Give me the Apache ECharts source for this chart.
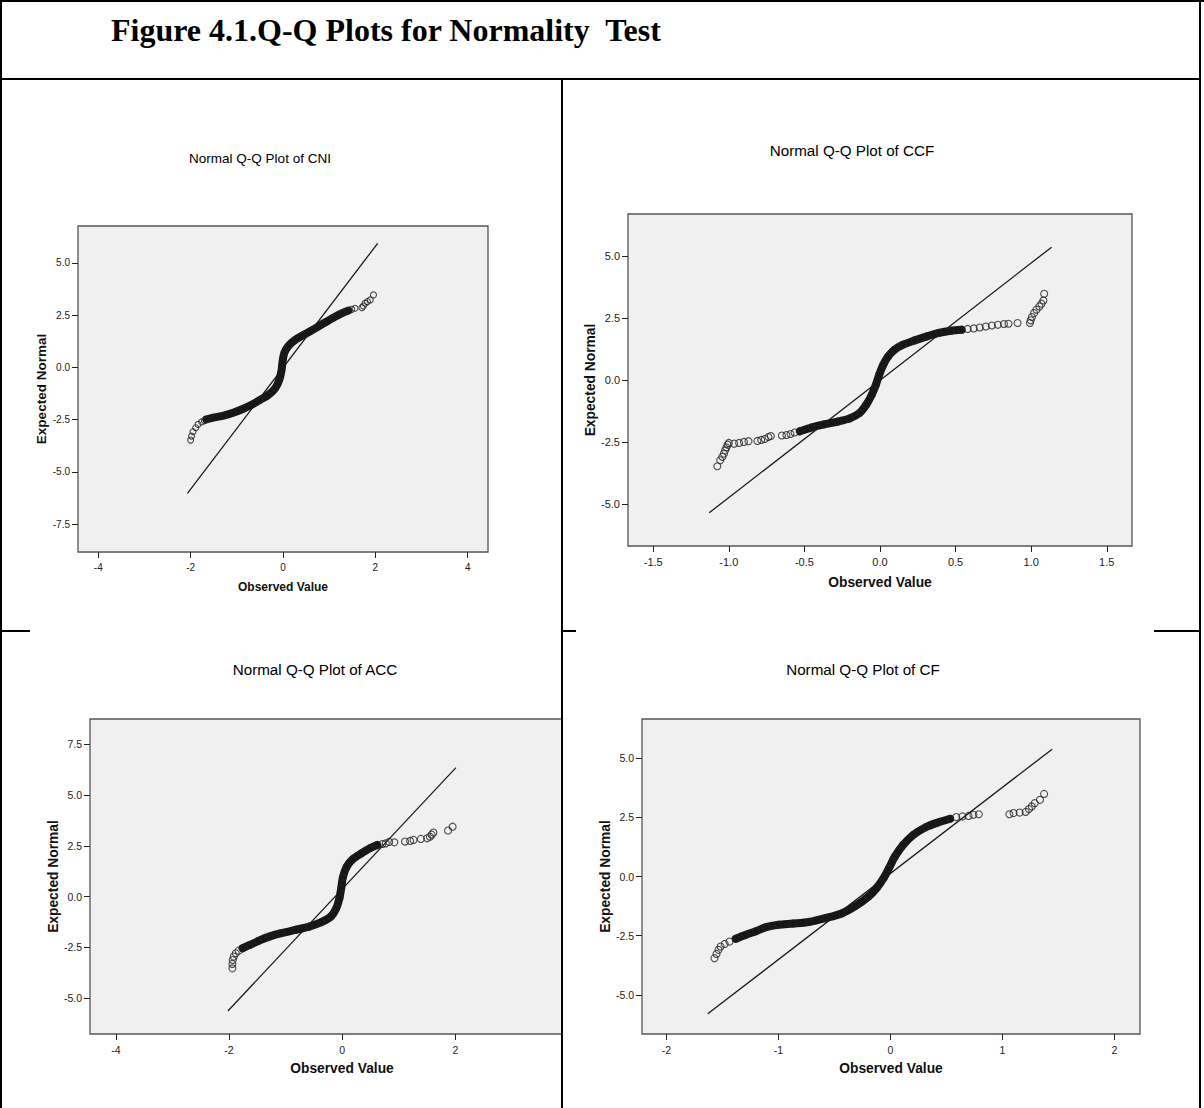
<!DOCTYPE html>
<html>
<head>
<meta charset="utf-8">
<title>Figure 4.1 Q-Q Plots for Normality Test</title>
<script src="https://cdn.jsdelivr.net/npm/echarts@6/dist/echarts.min.js"></script>
<style>
  html, body { margin: 0; padding: 0; background: #fff; }
  #chart { width: 1204px; height: 1108px; }
</style>
</head>
<body>
<div id="chart"></div>
<script>
// "dense" = the solid run of points, "sparse" = points that stand apart in the tails.

const cniDense = [[-1.66, -2.49], [-1.48, -2.39], [-1.29, -2.31], [-1.08, -2.17], [-0.86, -1.98], [-0.68, -1.79], [-0.50, -1.56], [-0.32, -1.32], [-0.17, -1.00], [-0.08, -0.60], [-0.03, -0.12], [-0.01, 0.27], [0.03, 0.71], [0.12, 1.03], [0.26, 1.31], [0.44, 1.55], [0.66, 1.82], [0.88, 2.11], [1.09, 2.38], [1.27, 2.59], [1.42, 2.72]]
const cniSparse = [[-2.00, -3.48], [-1.98, -3.29], [-1.95, -3.08], [-1.89, -2.89], [-1.84, -2.73], [-1.76, -2.61], [-1.70, -2.55], [1.49, 2.78], [1.56, 2.83], [1.71, 2.86], [1.74, 2.94], [1.78, 3.07], [1.83, 3.15], [1.89, 3.23], [1.96, 3.47]]
const cniRef = [[-2.07, -6.03], [2.05, 5.94]]
const cniXRange = [-4.44, 4.44]
const cniYRange = [-8.84, 6.77]
const cniXTicks = [-4, -2, 0, 2, 4]
const cniYTicks = [-7.5, -5, -2.5, 0, 2.5, 5]

const ccfDense = [[-0.53, -2.07], [-0.45, -1.91], [-0.37, -1.79], [-0.28, -1.68], [-0.20, -1.55], [-0.135, -1.33], [-0.09, -0.99], [-0.054, -0.59], [-0.027, -0.19], [-0.005, 0.22], [0.022, 0.62], [0.054, 0.95], [0.095, 1.22], [0.15, 1.42], [0.23, 1.60], [0.31, 1.76], [0.39, 1.90], [0.47, 1.99], [0.54, 2.03]]
const ccfSparse = [[-1.076, -3.48], [-1.057, -3.24], [-1.043, -3.10], [-1.032, -2.97], [-1.024, -2.84], [-1.016, -2.72], [-1.008, -2.61], [-1.0, -2.54], [-0.965, -2.57], [-0.932, -2.54], [-0.90, -2.50], [-0.87, -2.47], [-0.811, -2.46], [-0.786, -2.42], [-0.762, -2.38], [-0.738, -2.30], [-0.722, -2.26], [-0.649, -2.24], [-0.619, -2.22], [-0.592, -2.18], [-0.565, -2.12], [0.58, 2.06], [0.62, 2.08], [0.66, 2.12], [0.70, 2.16], [0.74, 2.20], [0.78, 2.23], [0.82, 2.26], [0.85, 2.27], [0.91, 2.30], [0.992, 2.30], [0.997, 2.41], [1.005, 2.54], [1.019, 2.70], [1.035, 2.84], [1.054, 2.97], [1.068, 3.08], [1.081, 3.21], [1.086, 3.48]]
const ccfRef = [[-1.13, -5.36], [1.135, 5.36]]
const ccfXRange = [-1.667, 1.667]
const ccfYRange = [-6.7, 6.7]
const ccfXTicks = [-1.5, -1, -0.5, 0, 0.5, 1, 1.5]
const ccfYTicks = [-5, -2.5, 0, 2.5, 5]

const accDense = [[-1.76, -2.54], [-1.63, -2.38], [-1.48, -2.18], [-1.29, -1.97], [-1.08, -1.80], [-0.83, -1.64], [-0.585, -1.48], [-0.37, -1.26], [-0.20, -0.98], [-0.105, -0.57], [-0.049, -0.08], [-0.018, 0.41], [0.012, 0.95], [0.08, 1.48], [0.185, 1.84], [0.34, 2.13], [0.49, 2.38], [0.62, 2.54]]
const accSparse = [[-1.94, -3.53], [-1.94, -3.31], [-1.935, -3.12], [-1.916, -2.95], [-1.88, -2.79], [-1.83, -2.66], [0.71, 2.59], [0.77, 2.62], [0.83, 2.69], [0.92, 2.67], [1.11, 2.71], [1.20, 2.74], [1.26, 2.79], [1.39, 2.84], [1.50, 2.87], [1.55, 2.95], [1.58, 3.05], [1.61, 3.15], [1.87, 3.25], [1.95, 3.44]]
const accRef = [[-2.02, -5.63], [2.01, 6.35]]
const accXRange = [-4.456, 3.883] // the right part of this panel is cut off by the table cell
const accYRange = [-6.76, 8.74]
const accXTicks = [-4, -2, 0, 2]
const accYTicks = [-5, -2.5, 0, 2.5, 5, 7.5]

const cfDense = [[-1.38, -2.63], [-1.29, -2.46], [-1.20, -2.31], [-1.11, -2.14], [-1.00, -2.04], [-0.87, -1.99], [-0.725, -1.92], [-0.58, -1.76], [-0.43, -1.55], [-0.31, -1.24], [-0.196, -0.85], [-0.123, -0.49], [-0.061, -0.07], [-0.013, 0.35], [0.041, 0.85], [0.114, 1.34], [0.205, 1.76], [0.315, 2.08], [0.424, 2.28], [0.533, 2.44]]
const cfSparse = [[-1.57, -3.45], [-1.552, -3.27], [-1.534, -3.10], [-1.516, -2.96], [-1.479, -2.85], [-1.436, -2.75], [0.588, 2.51], [0.643, 2.54], [0.698, 2.56], [0.741, 2.61], [0.789, 2.63], [1.062, 2.63], [1.099, 2.68], [1.154, 2.70], [1.208, 2.73], [1.237, 2.85], [1.262, 2.96], [1.288, 3.10], [1.335, 3.24], [1.372, 3.49]]
const cfRef = [[-1.63, -5.80], [1.444, 5.38]]
const cfXRange = [-2.217, 2.228]
const cfYRange = [-6.655, 6.655]
const cfXTicks = [-2, -1, 0, 1, 2]
const cfYTicks = [-5, -2.5, 0, 2.5, 5]

const SANS = 'Arial, "Liberation Sans", Helvetica, sans-serif'
const INK = '#161616'

const panels = [
  {
    title: 'Normal Q-Q Plot of CNI', dense: cniDense, sparse: cniSparse, ref: cniRef,
    xRange: cniXRange, yRange: cniYRange, xTicks: cniXTicks, yTicks: cniYTicks, xDigits: 0,
    grid: { left: 78, top: 226, width: 410, height: 326 },
    titleAt: [260, 158], titleSize: 13.5, tickSize: 10, xNameSize: 12, yNameSize: 13.5,
    xNameGap: 28.5, yNameGap: 17, xNameShift: 0, symbolSize: 6, band: 8
  },
  {
    title: 'Normal Q-Q Plot of CCF', dense: ccfDense, sparse: ccfSparse, ref: ccfRef,
    xRange: ccfXRange, yRange: ccfYRange, xTicks: ccfXTicks, yTicks: ccfYTicks, xDigits: 1,
    grid: { left: 628, top: 214, width: 504, height: 332 },
    titleAt: [852, 150], titleSize: 15.2, tickSize: 11, xNameSize: 13.8, yNameSize: 13.8,
    xNameGap: 29.5, yNameGap: 26, xNameShift: 0, symbolSize: 7, band: 8
  },
  {
    title: 'Normal Q-Q Plot of ACC', dense: accDense, sparse: accSparse, ref: accRef,
    xRange: accXRange, yRange: accYRange, xTicks: accXTicks, yTicks: accYTicks, xDigits: 0,
    grid: { left: 90, top: 719, width: 472, height: 315 },
    titleAt: [315, 669], titleSize: 15.2, tickSize: 10.5, xNameSize: 13.8, yNameSize: 13.8,
    xNameGap: 27, yNameGap: 28.5, xNameShift: 16, symbolSize: 7, band: 8
  },
  {
    title: 'Normal Q-Q Plot of CF', dense: cfDense, sparse: cfSparse, ref: cfRef,
    xRange: cfXRange, yRange: cfYRange, xTicks: cfXTicks, yTicks: cfYTicks, xDigits: 0,
    grid: { left: 642, top: 719, width: 498, height: 315 },
    titleAt: [863, 669], titleSize: 15.2, tickSize: 10.5, xNameSize: 13.8, yNameSize: 13.8,
    xNameGap: 27, yNameGap: 28, xNameShift: 0, symbolSize: 7, band: 8
  }
]

const grids = panels.map((p) => ({
  ...p.grid,
  show: true,
  backgroundColor: '#f0f0f0',
  borderColor: '#555',
  borderWidth: 1.3
}))

const xAxes = panels.map((p, i) => ({
  gridIndex: i,
  type: 'value',
  min: p.xRange[0],
  max: p.xRange[1],
  axisLine: { show: false, onZero: false },
  splitLine: { show: false },
  axisTick: { show: true, length: 6, customValues: p.xTicks, lineStyle: { color: '#222' } },
  axisLabel: {
    customValues: p.xTicks,
    formatter: (v) => Number(v).toFixed(p.xDigits),
    margin: 10,
    fontSize: p.tickSize,
    fontFamily: SANS,
    color: '#222'
  },
  name: 'Observed Value',
  nameLocation: 'middle',
  nameGap: p.xNameGap,
  nameTextStyle: {
    fontSize: p.xNameSize,
    fontWeight: 'bold',
    fontFamily: SANS,
    color: '#111',
    padding: [0, 0, 0, p.xNameShift * 2]
  }
}))

const yAxes = panels.map((p, i) => ({
  gridIndex: i,
  type: 'value',
  min: p.yRange[0],
  max: p.yRange[1],
  axisLine: { show: false, onZero: false },
  splitLine: { show: false },
  axisTick: { show: true, length: 6, customValues: p.yTicks, lineStyle: { color: '#222' } },
  axisLabel: {
    customValues: p.yTicks,
    formatter: (v) => Number(v).toFixed(1),
    margin: 8,
    fontSize: p.tickSize,
    fontFamily: SANS,
    color: '#222'
  },
  name: 'Expected Normal',
  nameLocation: 'middle',
  nameGap: p.yNameGap,
  nameTextStyle: { fontSize: p.yNameSize, fontWeight: 'bold', fontFamily: SANS, color: '#111' },
  z: 5
}))

const series = []
panels.forEach((p, i) => {
  series.push({
    type: 'line',
    xAxisIndex: i,
    yAxisIndex: i,
    data: p.ref,
    symbol: 'none',
    silent: true,
    lineStyle: { color: '#1a1a1a', width: 1.3 },
    z: 2
  })
  // the run of points is so packed that it reads as one thick black stroke
  series.push({
    type: 'line',
    xAxisIndex: i,
    yAxisIndex: i,
    data: p.dense,
    symbol: 'none',
    smooth: 0.3,
    silent: true,
    lineStyle: { color: INK, width: p.band, cap: 'round', join: 'round' },
    z: 3
  })
  series.push({
    type: 'scatter',
    xAxisIndex: i,
    yAxisIndex: i,
    data: p.dense.concat(p.sparse),
    symbol: 'circle',
    symbolSize: p.symbolSize,
    itemStyle: { color: 'transparent', borderColor: '#222', borderWidth: 1.1 },
    z: 4
  })
})

// document table that frames the four SPSS images
const rule = (x1, y1, x2, y2) => ({
  type: 'line',
  z: 100,
  shape: { x1, y1, x2, y2 },
  style: { stroke: '#000', lineWidth: 2 }
})

const graphics = [
  rule(0, 1, 1204, 1),
  rule(1, 0, 1, 1108),
  rule(1200, 0, 1200, 1108),
  rule(0, 79, 1200, 79),
  rule(562, 79, 562, 1108),
  rule(1, 631, 30, 631),
  rule(562, 631, 576, 631),
  rule(1154, 631, 1200, 631),
  {
    type: 'text',
    x: 111,
    y: 30,
    z: 100,
    style: {
      text: 'Figure 4.1.Q-Q Plots for Normality  Test',
      font: 'bold 32px "Liberation Serif", "Times New Roman", serif',
      fill: '#000',
      textAlign: 'left',
      textVerticalAlign: 'middle'
    }
  }
].concat(panels.map((p) => ({
  type: 'text',
  x: p.titleAt[0],
  y: p.titleAt[1],
  z: 100,
  style: {
    text: p.title,
    font: `${p.titleSize}px ${SANS}`,
    fill: '#000',
    textAlign: 'center',
    textVerticalAlign: 'middle'
  }
})))

const chart = echarts.init(document.getElementById('chart'), null, { renderer: 'svg' })
chart.setOption({
  backgroundColor: '#fff',
  animation: false,
  grid: grids,
  xAxis: xAxes,
  yAxis: yAxes,
  series,
  graphic: graphics
})
</script>
</body>
</html>
